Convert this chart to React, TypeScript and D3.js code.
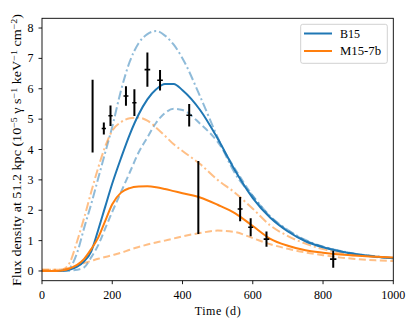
import React from 'react';
import * as d3 from 'd3';

// time grid (days) shared by every model curve
const tGrid = [0, 40, 60, 80, 100, 120, 140, 160, 180, 200, 225, 250, 275, 300, 325, 350, 375, 400, 450, 500, 550, 600, 650, 700, 750, 800, 850, 900, 950, 1000];

const b15Solid = [0, 0, 0.01, 0.05, 0.14, 0.32, 0.64, 1.35, 2.12, 2.88, 3.72, 4.5, 5.15, 5.65, 5.98, 6.16, 6.16, 5.95, 5.3, 4.36, 3.3, 2.4, 1.75, 1.3, 0.98, 0.78, 0.64, 0.54, 0.47, 0.42];
const b15Dashed = [0, 0, 0, 0.01, 0.04, 0.12, 0.45, 0.85, 1.4, 1.95, 2.6, 3.25, 3.9, 4.4, 4.88, 5.2, 5.34, 5.3, 4.85, 4.25, 3.35, 2.47, 1.78, 1.33, 1.0, 0.8, 0.65, 0.55, 0.48, 0.42];
const b15DashDot = [0, 0, 0.02, 0.12, 0.6, 1.42, 2.2, 3.05, 3.9, 4.75, 5.95, 6.9, 7.5, 7.8, 7.9, 7.75, 7.45, 7.0, 5.75, 4.4, 3.2, 2.47, 1.8, 1.35, 1.02, 0.8, 0.66, 0.55, 0.48, 0.42];

const m15Solid = [0, 0, 0.02, 0.09, 0.2, 0.4, 0.72, 1.1, 1.65, 2.2, 2.58, 2.73, 2.78, 2.79, 2.76, 2.7, 2.63, 2.56, 2.42, 2.18, 1.9, 1.48, 1.06, 0.83, 0.68, 0.6, 0.54, 0.5, 0.47, 0.44];
const m15Dashed = [0.04, 0.04, 0.05, 0.1, 0.18, 0.26, 0.33, 0.4, 0.46, 0.52, 0.6, 0.7, 0.79, 0.87, 0.94, 1.0, 1.07, 1.14, 1.25, 1.33, 1.28, 1.08, 0.88, 0.73, 0.61, 0.52, 0.44, 0.39, 0.35, 0.33];
const m15DashDot = [0.04, 0.04, 0.06, 0.3, 0.98, 1.75, 2.6, 3.4, 4.1, 4.62, 4.9, 5.03, 5.05, 4.95, 4.72, 4.45, 4.17, 3.95, 3.52, 3.0, 2.57, 2.05, 1.5, 1.15, 0.9, 0.72, 0.6, 0.52, 0.46, 0.42];

// observations
const obsT = [144, 176, 195, 239, 263, 300, 336, 419, 445, 564, 594, 639, 829];
const obsY = [5.1, 4.69, 5.11, 5.76, 5.54, 6.63, 6.28, 5.13, 2.42, 2.04, 1.44, 1.05, 0.39];
const obsYErr = [1.2, 0.2, 0.34, 0.32, 0.44, 0.56, 0.34, 0.37, 1.2, 0.4, 0.3, 0.25, 0.28];
const obsTErr = [0, 6, 6, 7, 6, 8, 8, 8, 0, 7, 7, 8, 9];

const xTicks = [0, 200, 400, 600, 800, 1000];
const yTicks = [0, 1, 2, 3, 4, 5, 6, 7, 8];

const BLUE = '#1f77b4';
const ORANGE = '#ff7f0e';
const FONT = '"Liberation Serif", "DejaVu Serif", serif';
const FS = 12;

const W = 415;
const H = 327;
const left = 42;
const right = 393.3;
const top = 18.3;
const bottom = 280.7;

export default function App() {
  const x = d3.scaleLinear().domain([0, 1000]).range([left, right]);
  const y = d3.scaleLinear().domain([-0.32, 8.32]).range([bottom, top]);

  const line = d3
    .line<number>()
    .x((_, i) => x(tGrid[i]))
    .y((d) => y(d))
    .curve(d3.curveMonotoneX);

  const curves = [
    { vals: b15DashDot, color: BLUE, op: 0.5, dash: '9,3,2,3' },
    { vals: b15Dashed, color: BLUE, op: 0.5, dash: '7,3.5' },
    { vals: m15DashDot, color: ORANGE, op: 0.5, dash: '9,3,2,3' },
    { vals: m15Dashed, color: ORANGE, op: 0.5, dash: '7,3.5' },
    { vals: b15Solid, color: BLUE, op: 1, dash: null },
    { vals: m15Solid, color: ORANGE, op: 1, dash: null },
  ];

  return (
    <svg width={W} height={H} style={{ position: 'absolute', left: 0, top: 0 }} fontFamily={FONT}>
      <rect width={W} height={H} fill="#fff" />
      <defs>
        <clipPath id="plot">
          <rect x={left} y={top} width={right - left} height={bottom - top} />
        </clipPath>
      </defs>

      <g clipPath="url(#plot)">
        {curves.map((c, i) => (
          <path
            key={i}
            d={line(c.vals) || ''}
            fill="none"
            stroke={c.color}
            strokeOpacity={c.op}
            strokeWidth={2}
            strokeDasharray={c.dash || undefined}
          />
        ))}
        {obsT.map((t, i) => (
          <g key={i} stroke="#000">
            <line x1={x(t)} x2={x(t)} y1={y(obsY[i] - obsYErr[i])} y2={y(obsY[i] + obsYErr[i])} strokeWidth={2} />
            {obsTErr[i] > 0 && (
              <line x1={x(t - obsTErr[i])} x2={x(t + obsTErr[i])} y1={y(obsY[i])} y2={y(obsY[i])} strokeWidth={1.6} />
            )}
          </g>
        ))}
      </g>

      {/* frame */}
      <rect x={left} y={top} width={right - left} height={bottom - top} fill="none" stroke="#000" strokeWidth={0.9} />

      {/* x axis */}
      {xTicks.map((t) => (
        <g key={t}>
          <line x1={x(t)} x2={x(t)} y1={bottom} y2={bottom + 3.5} stroke="#000" strokeWidth={0.9} />
          <text x={x(t)} y={bottom + 18} fontSize={FS} textAnchor="middle">{t}</text>
        </g>
      ))}
      <text x={(left + right) / 2} y={314.5} fontSize={FS} textAnchor="middle" textLength={46} lengthAdjust="spacing">Time (d)</text>

      {/* y axis */}
      {yTicks.map((v) => (
        <g key={v}>
          <line x1={left - 3.5} x2={left} y1={y(v)} y2={y(v)} stroke="#000" strokeWidth={0.9} />
          <text x={left - 8.5} y={y(v) + 4} fontSize={FS} textAnchor="end">{v}</text>
        </g>
      ))}
      <text transform="translate(21,150) rotate(-90)" fontSize={FS} textAnchor="middle" textLength={272} lengthAdjust="spacingAndGlyphs">
        Flux density at 51.2 kpc (10
        <tspan dy={-4.5} fontSize={8.5}>−5</tspan>
        <tspan dy={4.5}> γ s</tspan>
        <tspan dy={-4.5} fontSize={8.5}>−1</tspan>
        <tspan dy={4.5}> keV</tspan>
        <tspan dy={-4.5} fontSize={8.5}>−1</tspan>
        <tspan dy={4.5}> cm</tspan>
        <tspan dy={-4.5} fontSize={8.5}>−2</tspan>
        <tspan dy={4.5}>)</tspan>
      </text>

      {/* legend */}
      <rect x={300.7} y={24.3} width={86.6} height={39} rx={2} fill="#fff" fillOpacity={0.8} stroke="#ccc" strokeWidth={0.9} />
      <line x1={304} x2={332} y1={33.5} y2={33.5} stroke={BLUE} strokeWidth={2} />
      <text x={340} y={37.8} fontSize={FS}>B15</text>
      <line x1={304} x2={332} y1={51} y2={51} stroke={ORANGE} strokeWidth={2} />
      <text x={340} y={55.3} fontSize={FS} textLength={41} lengthAdjust="spacingAndGlyphs">M15-7b</text>
    </svg>
  );
}
